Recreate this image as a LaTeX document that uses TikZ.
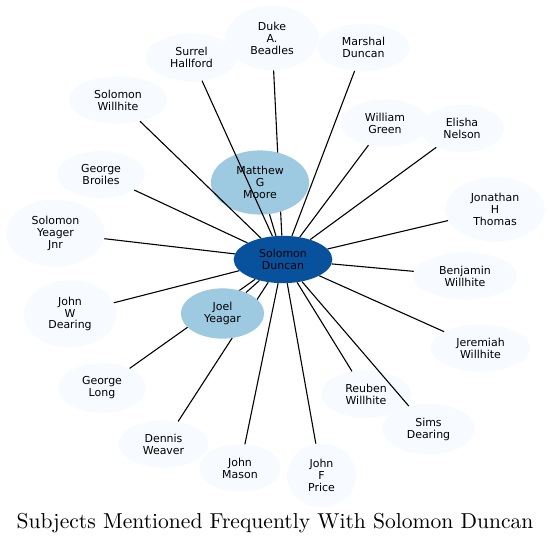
\documentclass[tikz,border=0pt]{standalone}
\usepackage{fontspec}
\setsansfont{DejaVu Sans}
\newfontfamily\titlefont{lmroman10-regular}[Extension=.otf]
\usetikzlibrary{shapes.geometric}
\definecolor{hubblue}{RGB}{8,81,156}
\definecolor{midblue}{RGB}{158,202,225}
\definecolor{paleblue}{RGB}{247,251,255}
\pgfdeclarelayer{back}
\pgfdeclarelayer{front}
\pgfsetlayers{back,main,front}

\begin{document}
\begin{tikzpicture}[x=1bp, y=-1bp, font=\sffamily\fontsize{11}{12}\selectfont,
    n/.style={ellipse, align=center, inner xsep=11bp, inner ysep=6.5bp},
    leaf/.style={n, fill=paleblue},
    mid/.style={n, fill=midblue},
    hub/.style={n, fill=hubblue},
    ln/.style={line width=1.1bp}]
    \useasboundingbox (0,0) rectangle (551,545);
    \begin{pgfonlayer}{front}
    \node[hub] (c) at (283,259.5) {Solomon\\Duncan};
    \node[mid] (jy) at (222.5,313.5) {Joel\\Yeagar};
    \end{pgfonlayer}
    \node[leaf] (sh) at (191.5,57.5) {Surrel\\Hallford};
    \node[leaf] (dab) at (272,38) {Duke\\A.\\Beadles};
    \node[leaf] (md) at (363.5,47.5) {Marshal\\Duncan};
    \node[leaf] (wg) at (385,123) {William\\Green};
    \node[leaf] (en) at (462,128.5) {Elisha\\Nelson};
    \node[leaf] (jht) at (495,209.5) {Jonathan\\H\\Thomas};
    \node[leaf] (bw) at (465,276) {Benjamin\\Willhite};
    \node[leaf] (jw) at (480.5,348) {Jeremiah\\Willhite};
    \node[leaf] (rw) at (366,394) {Reuben\\Willhite};
    \node[leaf] (sd) at (428.5,429) {Sims\\Dearing};
    \node[leaf] (jfp) at (321.5,475.5) {John\\F\\Price};
    \node[leaf] (dw) at (163.5,444) {Dennis\\Weaver};
    \node[leaf] (jm) at (240,468) {John\\Mason};
    \node[leaf] (gl) at (102,388) {George\\Long};
    \node[leaf] (jwd) at (70,314) {John\\W\\Dearing};
    \node[leaf] (syj) at (55.5,233) {Solomon\\Yeager\\Jnr};
    \node[leaf] (gb) at (101,174.5) {George\\Broiles};
    \node[leaf] (sw) at (118,100) {Solomon\\Willhite};
    \node[mid] (mgm) at (260,182.5) {Matthew\\G\\Moore};
    \begin{pgfonlayer}{back}
    \draw[ln] (c) -- (dab);
    \end{pgfonlayer}
    \foreach \t in {mgm,jy,sh,md,wg,en,jht,bw,jw,rw,sd,jfp,jm,dw,gl,jwd,syj,gb,sw}
      \draw[ln] (c) -- (\t);
    \node[font=\titlefont\fontsize{21.65}{24}\selectfont, anchor=base] (title) at (275,528) {Subjects Mentioned Frequently With Solomon Duncan};
\end{tikzpicture}
\end{document}
